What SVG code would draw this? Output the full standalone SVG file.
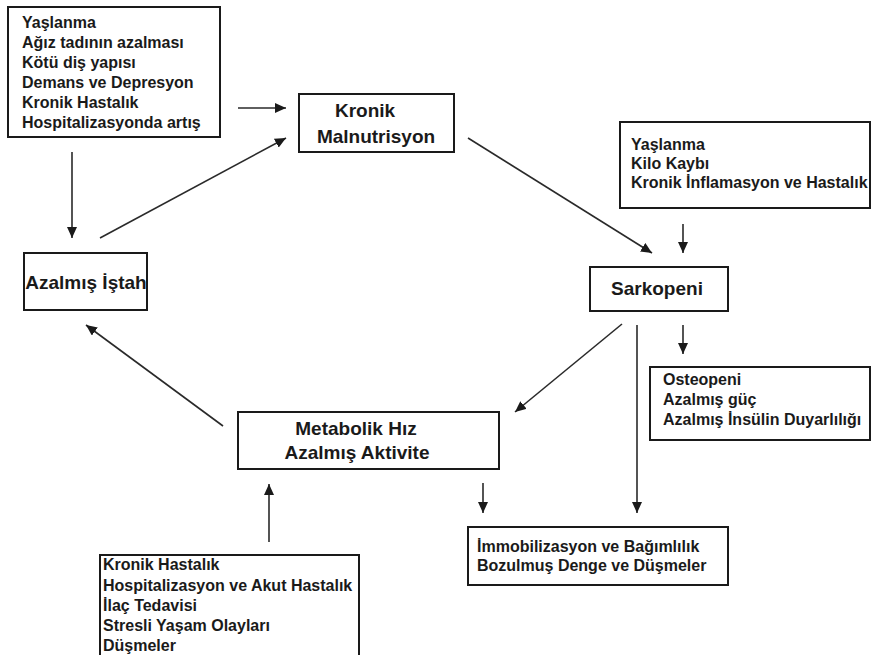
<svg xmlns="http://www.w3.org/2000/svg" width="872" height="655" viewBox="0 0 872 655">
<defs>
<style>
.box{fill:#fff;stroke:#1a1a1a;stroke-width:2}
.t{font-family:"Liberation Sans",Arial,sans-serif;font-weight:bold;fill:#1a1a1a}
.s{font-size:16px}
.b{font-size:19px}
.c{text-anchor:middle}
.ln{stroke:#2a2a2a;stroke-width:1.6;fill:none;marker-end:url(#ah)}
</style>
<marker id="ah" markerUnits="userSpaceOnUse" markerWidth="12" markerHeight="10" refX="11" refY="5" orient="auto">
<path d="M0,0 L11,5 L0,10 z" fill="#1a1a1a"/>
</marker>
</defs>
<rect width="872" height="655" fill="#fff"/>
<g id="connectors">
<line class="ln" x1="238" y1="108" x2="286" y2="108"/>
<line class="ln" x1="72" y1="152" x2="72" y2="238"/>
<line class="ln" x1="100" y1="238" x2="286" y2="138"/>
<line class="ln" x1="468" y1="138" x2="652" y2="253"/>
<line class="ln" x1="683" y1="224" x2="683" y2="253"/>
<line class="ln" x1="622" y1="324" x2="515" y2="412"/>
<line class="ln" x1="637" y1="325" x2="637" y2="513"/>
<line class="ln" x1="683" y1="325" x2="683" y2="354"/>
<line class="ln" x1="223" y1="426" x2="86" y2="325"/>
<line class="ln" x1="269" y1="542" x2="269" y2="484"/>
<line class="ln" x1="483" y1="483" x2="483" y2="513"/>
</g>
<g id="causes-malnutrition">
<rect class="box" x="8" y="7" width="212" height="130"/>
<text class="t s" x="22" y="28">Yaşlanma</text>
<text class="t s" x="22" y="48">Ağız tadının azalması</text>
<text class="t s" x="22" y="68">Kötü diş yapısı</text>
<text class="t s" x="22" y="88">Demans ve Depresyon</text>
<text class="t s" x="22" y="108">Kronik Hastalık</text>
<text class="t s" x="22" y="128">Hospitalizasyonda artış</text>
</g>
<g id="kronik-malnutrisyon">
<rect class="box" x="299" y="94" width="155" height="58"/>
<text class="t b c" x="365" y="117">Kronik</text>
<text class="t b c" x="376" y="143">Malnutrisyon</text>
</g>
<g id="causes-sarkopeni">
<rect class="box" x="620" y="122" width="250" height="86"/>
<text class="t s" x="631" y="150">Yaşlanma</text>
<text class="t s" x="631" y="169">Kilo Kaybı</text>
<text class="t s" x="631" y="188">Kronik İnflamasyon ve Hastalık</text>
</g>
<g id="sarkopeni">
<rect class="box" x="590" y="267" width="138" height="44"/>
<text class="t b c" x="657" y="295">Sarkopeni</text>
</g>
<g id="azalmis-istah">
<rect class="box" x="24" y="253" width="123" height="57"/>
<text class="t b c" x="86" y="289">Azalmış İştah</text>
</g>
<g id="metabolik-hiz">
<rect class="box" x="238" y="412" width="261" height="57"/>
<text class="t b c" x="356" y="435">Metabolik Hız</text>
<text class="t b c" x="357" y="459">Azalmış Aktivite</text>
</g>
<g id="osteopeni">
<rect class="box" x="650" y="367" width="220" height="73"/>
<text class="t s" x="663" y="385">Osteopeni</text>
<text class="t s" x="663" y="405">Azalmış güç</text>
<text class="t s" x="663" y="425">Azalmış İnsülin Duyarlılığı</text>
</g>
<g id="immobilizasyon">
<rect class="box" x="468" y="527" width="260" height="58"/>
<text class="t s" x="477" y="552">İmmobilizasyon ve Bağımlılık</text>
<text class="t s" x="477" y="571">Bozulmuş Denge ve Düşmeler</text>
</g>
<g id="causes-activity">
<rect class="box" x="100" y="555" width="259" height="110"/>
<text class="t s" x="103" y="570">Kronik Hastalık</text>
<text class="t s" x="103" y="591">Hospitalizasyon ve Akut Hastalık</text>
<text class="t s" x="103" y="611">İlaç Tedavisi</text>
<text class="t s" x="103" y="631">Stresli Yaşam Olayları</text>
<text class="t s" x="103" y="651">Düşmeler</text>
</g>
</svg>
